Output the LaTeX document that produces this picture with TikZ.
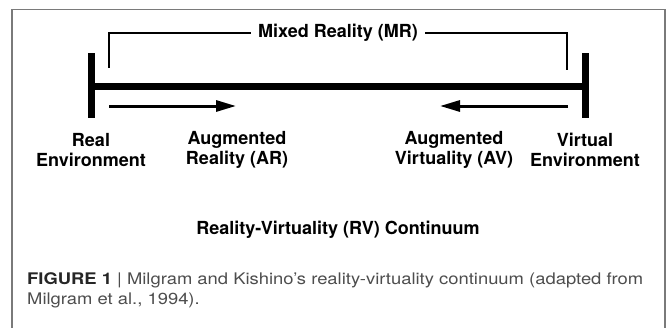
\documentclass[tikz,border=0pt]{standalone}
\usepackage{fontspec}
\setmainfont{TeX Gyre Heros}
\usetikzlibrary{arrows.meta}
\definecolor{framegray}{HTML}{7A7A7A}
\definecolor{capgray}{HTML}{4D4D4D}
\definecolor{capdark}{HTML}{262626}
\tikzset{
  lbl/.style={font=\fontsize{18}{19.5}\selectfont\bfseries, align=center, inner sep=0pt, text=black},
  thinline/.style={line width=1.3pt, black},
  thickline/.style={line width=7pt, black},
  arrowline/.style={line width=3pt, black, -{Triangle[length=20pt,width=11pt]}},
  captxt/.style={font=\fontsize{16}{19}\selectfont, text=capgray, anchor=base west, inner sep=0pt}
}
\newcommand{\capstretch}[1]{\scalebox{1.15}[1]{#1}}
\begin{document}
\begin{tikzpicture}[x=1pt,y=-1pt]
\useasboundingbox (0,0) rectangle (667,327);
% frame
\draw[framegray, line width=1.3pt] (12,330) -- (12,9.5) -- (665,9.5) -- (665,330);
% bars
\coordinate (lt) at (91,53);
\coordinate (lb) at (91,118);
\coordinate (rt) at (585,53);
\coordinate (rb) at (585,118);
\coordinate (lm) at (91,86);
\coordinate (rm) at (585,86);
\draw[thickline] (lt) -- (lb);
\draw[thickline] (rt) -- (rb);
\draw[thickline] (lm) -- (rm);
% mixed reality bracket
\node[lbl, inner xsep=7pt] (mr) at (338,33) {Mixed Reality (MR)};
\coordinate (bl) at (109,68);
\coordinate (br) at (567,70);
\draw[thinline] (mr.west) -| (bl);
\draw[thinline] (mr.east) -| (br);
% arrows
\coordinate (a1s) at (109,106);
\coordinate (a1e) at (236,106);
\coordinate (a2s) at (568,106);
\coordinate (a2e) at (440,106);
\draw[arrowline] (a1s) -- (a1e);
\draw[arrowline] (a2s) -- (a2e);
% labels
\node[lbl] (re) at (91,150) {Real\\Environment};
\node[lbl] (ar) at (237,150) {Augmented\\Reality (AR)};
\node[lbl] (av) at (454,150) {Augmented\\Virtuality (AV)};
\node[lbl] (ve) at (585,150) {Virtual\\Environment};
\node[lbl] (rv) at (338,230) {Reality-Virtuality (RV) Continuum};
% caption
\node[captxt] (cap1) at (27,284.5) {\capstretch{\textcolor{capdark}{\bfseries FIGURE 1} | Milgram and Kishino’s reality-virtuality continuum (adapted from}};
\node[captxt] (cap2) at (27,304) {\capstretch{Milgram et al., 1994).}};
\end{tikzpicture}
\end{document}
